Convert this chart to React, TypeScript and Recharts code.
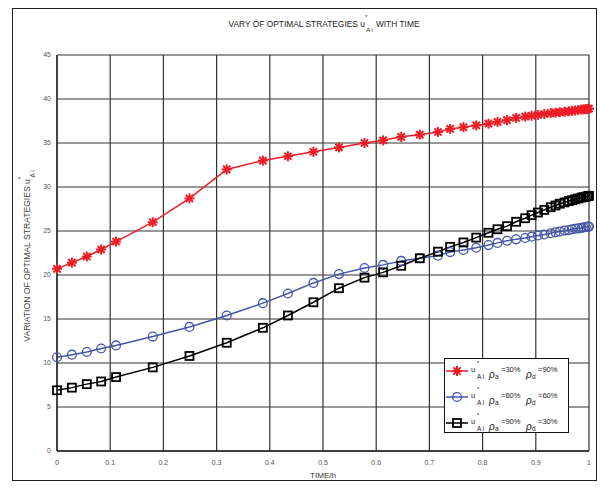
import React from 'react';
import { LineChart, Line, XAxis, YAxis, CartesianGrid } from 'recharts';

const times = [0, 0.028, 0.056, 0.083, 0.111, 0.18, 0.249, 0.319, 0.387, 0.434, 0.482, 0.53, 0.578, 0.613, 0.647, 0.682, 0.716, 0.739, 0.764, 0.788, 0.811, 0.828, 0.846, 0.863, 0.88, 0.892, 0.904, 0.916, 0.928, 0.937, 0.945, 0.954, 0.962, 0.968, 0.974, 0.98, 0.986, 0.99, 0.994, 0.998, 1.0];

const uA30 = [20.7, 21.4, 22.1, 22.9, 23.8, 26.0, 28.7, 32.0, 33.0, 33.5, 34.0, 34.5, 35.0, 35.3, 35.7, 35.95, 36.25, 36.6, 36.8, 37.0, 37.2, 37.4, 37.6, 37.85, 38.0, 38.1, 38.2, 38.3, 38.4, 38.45, 38.5, 38.55, 38.6, 38.65, 38.7, 38.75, 38.8, 38.82, 38.85, 38.88, 38.9];

const uA60 = [10.65, 10.95, 11.25, 11.65, 12.0, 13.0, 14.1, 15.4, 16.8, 17.9, 19.1, 20.1, 20.8, 21.15, 21.6, 21.9, 22.2, 22.6, 22.85, 23.1, 23.4, 23.65, 23.9, 24.05, 24.2, 24.35, 24.5, 24.6, 24.75, 24.85, 24.95, 25.05, 25.1, 25.2, 25.25, 25.3, 25.35, 25.4, 25.45, 25.5, 25.5];

const uA90 = [6.9, 7.2, 7.6, 7.9, 8.4, 9.5, 10.8, 12.3, 14.0, 15.4, 16.9, 18.5, 19.7, 20.3, 21.05, 21.9, 22.65, 23.2, 23.7, 24.25, 24.8, 25.2, 25.55, 26.05, 26.45, 26.8, 27.1, 27.4, 27.7, 27.9, 28.1, 28.25, 28.4, 28.5, 28.6, 28.7, 28.8, 28.85, 28.9, 28.95, 29.0];

const xTicks = [0, 0.1, 0.2, 0.3, 0.4, 0.5, 0.6, 0.7, 0.8, 0.9, 1];
const yTicks = [0, 5, 10, 15, 20, 25, 30, 35, 40, 45];

const seriesKeys = ['s1', 's2', 's3'];
const seriesNames = ['ρa=30% ρd=90%', 'ρa=60% ρd=60%', 'ρa=90% ρd=30%'];
const seriesColors = ['#ee1c25', '#4456a8', '#000000'];
const seriesMarkers = ['star', 'circle', 'square'];
const rhoA = ['=30%', '=60%', '=90%'];
const rhoD = ['=90%', '=60%', '=30%'];

const data = times.map((t, i) => ({ t, s1: uA30[i], s2: uA60[i], s3: uA90[i] }));

const FONT = "'Liberation Sans Narrow','Liberation Sans',Arial,sans-serif";

function marker(kind: string, cx: number, cy: number, color: string, key: any) {
  if (kind === 'star') {
    const r = 5;
    const d = r * 0.72;
    return (
      <g key={key} stroke={color} strokeWidth={2} strokeLinecap="butt">
        <line x1={cx - r} y1={cy} x2={cx + r} y2={cy} />
        <line x1={cx} y1={cy - r} x2={cx} y2={cy + r} />
        <line x1={cx - d} y1={cy - d} x2={cx + d} y2={cy + d} />
        <line x1={cx - d} y1={cy + d} x2={cx + d} y2={cy - d} />
      </g>
    );
  }
  if (kind === 'circle') {
    return <circle key={key} cx={cx} cy={cy} r={4.4} fill="none" stroke={color} strokeWidth={1.3} />;
  }
  return <rect key={key} x={cx - 4} y={cy - 4} width={8} height={8} fill="none" stroke={color} strokeWidth={1.8} />;
}

const makeDot = (kind: string, color: string) => (props: any) => {
  const { cx, cy, index } = props;
  if (cx == null || cy == null) return <g key={'e' + index} />;
  return marker(kind, cx, cy, color, kind + index);
};

const LegendBox = () => (
  <div style={{ position: 'absolute', left: 444, top: 358, width: 125, height: 75, border: '1px solid #111', background: '#fff', boxSizing: 'border-box' }}>
    <svg width={123} height={73} style={{ display: 'block' }} fontFamily={FONT} fill="#222">
      {seriesKeys.map((k, idx) => {
        const y = 12 + idx * 26;
        const color = seriesColors[idx];
        return (
          <g key={k}>
            <line x1={1} y1={y} x2={23} y2={y} stroke={color} strokeWidth={1.5} />
            {marker(seriesMarkers[idx], 12, y, color, 'm' + idx)}
            <text x={26} y={y + 1} fontSize={7.5}>u</text>
            <text x={32} y={y - 6} fontSize={6}>*</text>
            <text x={32} y={y + 8} fontSize={6.5}>A i</text>
            <text x={44} y={y + 7} fontSize={10} fontStyle="italic">ρ</text>
            <text x={50} y={y + 7.5} fontSize={6.5}>a</text>
            <text x={56} y={y + 1} fontSize={7.5}>{rhoA[idx]}</text>
            <text x={81} y={y + 7} fontSize={10} fontStyle="italic">ρ</text>
            <text x={87} y={y + 7.5} fontSize={6.5}>d</text>
            <text x={93} y={y + 1} fontSize={7.5}>{rhoD[idx]}</text>
          </g>
        );
      })}
    </svg>
  </div>
);

export default function App() {
  return (
    <div style={{ position: 'absolute', left: 0, top: 0, width: 600, height: 489, background: '#fff' }}>
      <div style={{ position: 'absolute', left: 12, top: 8, width: 585, height: 473, border: '1px solid #222', boxSizing: 'border-box' }} />
      <div style={{ position: 'absolute', left: 0, top: 0 }}>
        <LineChart width={600} height={489} data={data} margin={{ top: 55, right: 11, bottom: 18, left: 0 }}>
          <CartesianGrid stroke="#333" strokeWidth={1.2} />
          <XAxis
            dataKey="t"
            type="number"
            domain={[0, 1]}
            ticks={xTicks}
            interval={0}
            tickSize={0}
            tickMargin={9}
            height={20}
            axisLine={{ stroke: '#222', strokeWidth: 1.3 }}
            tickLine={false}
            tick={{ fontSize: 7, fill: '#555', fontFamily: FONT }}
            label={{ value: 'TIME/h', position: 'bottom', offset: 1, fontSize: 8, fill: '#333', fontFamily: FONT }}
          />
          <YAxis
            type="number"
            domain={[0, 45]}
            ticks={yTicks}
            interval={0}
            width={57}
            tickSize={0}
            tickMargin={6}
            axisLine={{ stroke: '#222', strokeWidth: 1.3 }}
            tickLine={false}
            tick={{ fontSize: 7, fill: '#555', fontFamily: FONT }}
          />
          {seriesKeys.map((k, i) => (
            <Line
              key={k}
              dataKey={k}
              name={seriesNames[i]}
              stroke={seriesColors[i]}
              strokeWidth={1.5}
              dot={makeDot(seriesMarkers[i], seriesColors[i])}
              activeDot={false}
              isAnimationActive={false}
            />
          ))}
        </LineChart>
      </div>
      <LegendBox />
      <svg width={600} height={489} style={{ position: 'absolute', left: 0, top: 0, pointerEvents: 'none' }} fontFamily={FONT}>
        <text x={324} y={27} textAnchor="middle" fontSize={8.4} fill="#222">
          VARY OF OPTIMAL STRATEGIES u
          <tspan dy={-8} fontSize={6}>*</tspan>
          <tspan dy={13} dx={-1} fontSize={6}>A i</tspan>
          <tspan dy={-5} dx={3}>WITH TIME</tspan>
        </text>
        <text transform="rotate(-90, 30, 256)" x={30} y={256} textAnchor="middle" fontSize={8.6} fill="#444">
          VARIATION OF OPTIMAL STRATEGIES u
          <tspan dy={-7} fontSize={6.5}>*</tspan>
          <tspan dy={12} dx={-1} fontSize={6.5}>A i</tspan>
        </text>
      </svg>
    </div>
  );
}
